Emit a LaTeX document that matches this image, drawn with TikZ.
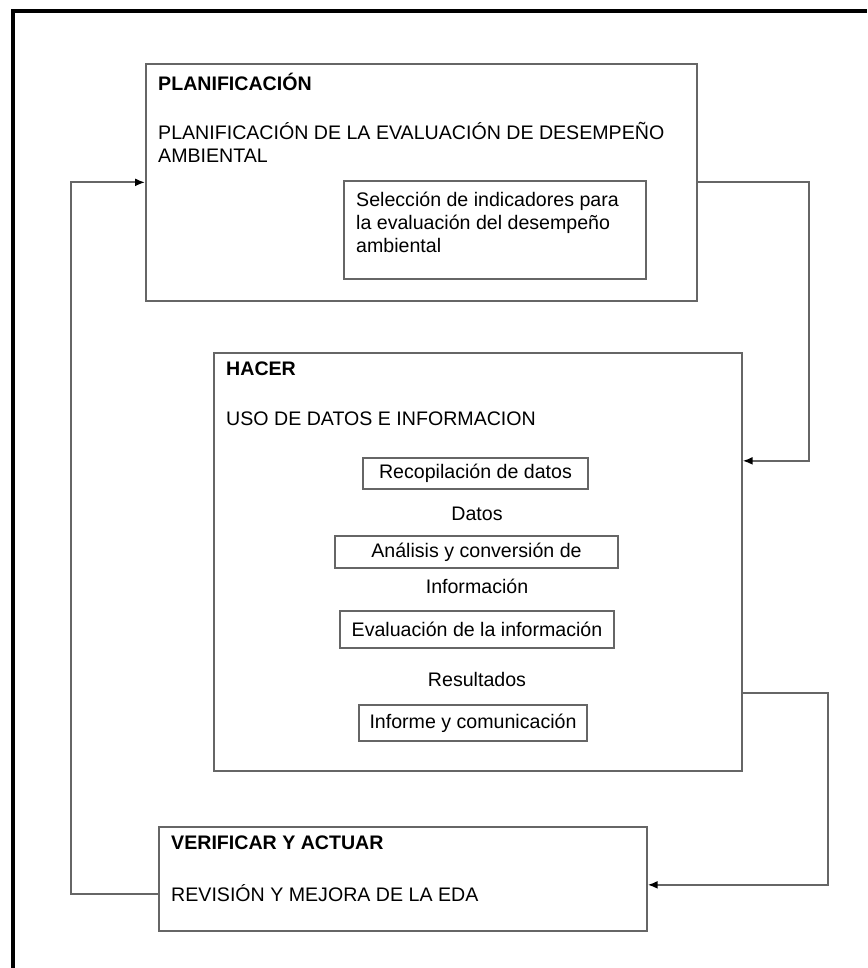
\documentclass[tikz,border=0pt]{standalone}
\usepackage{fontspec}
\setmainfont{Liberation Sans}
\usetikzlibrary{arrows.meta}

\tikzset{
  caja/.style={draw=black!60, line width=1.7pt, inner sep=0pt},
  texto/.style={inner sep=0pt, align=left, anchor=north west},
  conector/.style={draw=black!60, line width=1.7pt, -{Latex[length=10pt,width=8pt,color=black]}}
}

\begin{document}
\begin{tikzpicture}[x=1pt, y=-1pt, font=\fontsize{19.6}{23}\selectfont]
        \useasboundingbox (0,0) rectangle (867,968);
        % Marco exterior
        \draw[line width=4pt] (13,968) -- (13,11) -- (867,11);

        % Planificacion
        \node[caja, minimum width=551pt, minimum height=237pt, anchor=north west] (plan) at (145,63) {};
        \node[texto] (plantit) at (158,73) {\textbf{PLANIFICACIÓN}};
        \node[texto] (plantxt) at (158,122) {PLANIFICACIÓN DE LA EVALUACIÓN DE DESEMPEÑO\\AMBIENTAL};
        \node[caja, minimum width=302pt, minimum height=98pt, anchor=north west] (selec) at (343,180) {};
        \node[texto] (selectxt) at (356,192) {Selección de indicadores para\\la evaluación del desempeño\\ambiental};

        % Hacer
        \node[caja, minimum width=528pt, minimum height=418pt, anchor=north west] (hacer) at (213,352) {};
        \node[texto] (hacertit) at (226,362) {\textbf{HACER}};
        \node[texto] (hacertxt) at (226,412) {USO DE DATOS E INFORMACION};
        \node[caja, minimum width=225pt, minimum height=31pt] (recop) at (475.5,473.5) {Recopilación de datos};
        \node (datos) at (477,514) {Datos};
        \node[caja, minimum width=283pt, minimum height=32pt] (analisis) at (476.5,552) {Análisis y conversión de};
        \node (info) at (477,586) {Información};
        \node[caja, minimum width=274pt, minimum height=37pt] (evalua) at (477,629.5) {Evaluación de la información};
        \node (result) at (477,679) {Resultados};
        \node[caja, minimum width=228pt, minimum height=36pt] (informe) at (473,723) {Informe y comunicación};

        % Verificar y actuar
        \node[caja, minimum width=488pt, minimum height=104pt, anchor=north west] (verif) at (158,826) {};
        \node[texto] (veriftit) at (171,836) {\textbf{VERIFICAR Y ACTUAR}};
        \node[texto] (veriftxt) at (171,884) {REVISIÓN Y MEJORA DE LA EDA};

        % Ciclo
        \draw[conector] (plan.east) -- ++(111,0) |- ([yshift=101pt]hacer.east);
        \draw[conector] ([yshift=-131pt]hacer.east) -- ++(85,0) |- ([yshift=-6pt]verif.east);
        \draw[conector] ([yshift=-15pt]verif.west) -- ++(-87,0) |- (plan.west);
    \end{tikzpicture}
\end{document}
